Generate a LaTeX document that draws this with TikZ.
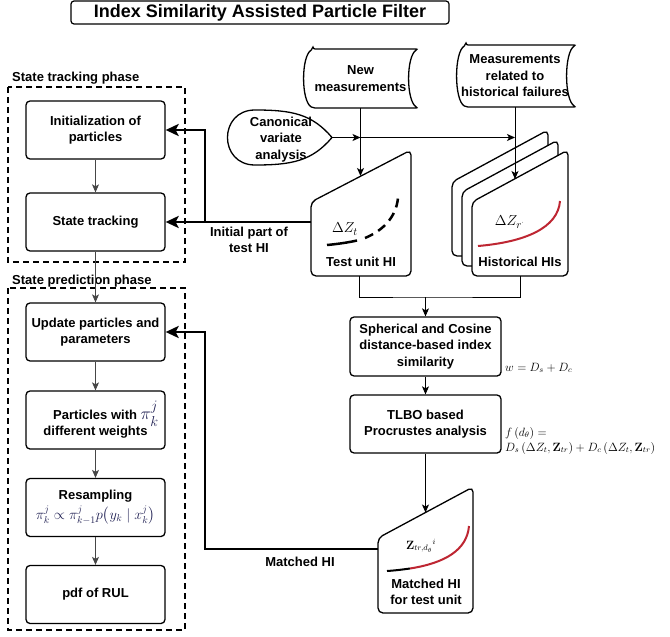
\documentclass[tikz,border=0pt]{standalone}
\usepackage[no-math]{fontspec}
\setmainfont{Liberation Sans}
\usepackage{amsmath}
\usetikzlibrary{arrows.meta, calc}
\definecolor{curvered}{RGB}{190, 38, 50}
\definecolor{linegray}{RGB}{70, 70, 70}
\definecolor{mathnavy}{RGB}{35, 35, 85}

\newcommand{\hicard}[5]{\draw[card] (#1,#3) -- (#2,#4) -- (#2,#5) -- (#1,#5) -- cycle;}

\begin{document}
\begin{tikzpicture}[x=1pt, y=-1pt,
    every node/.style={font=\fontsize{13}{16.5}\selectfont\bfseries, align=center, inner sep=1pt},
    box/.style={rectangle, draw, line width=1.3pt, rounded corners=4pt,
                minimum width=139pt, minimum height=58pt, fill=white},
    phase/.style={draw, line width=1.3pt, dash pattern=on 6pt off 4pt},
    card/.style={draw, fill=white, line width=1.3pt, rounded corners=5pt},
    outline/.style={draw, line width=1.3pt},
    conn/.style={line width=0.9pt, -{Stealth[length=8pt, width=7pt, inset=2pt]}},
    flow/.style={conn, draw=linegray},
    thk/.style={line width=2.8pt, -{Stealth[length=13pt, width=12pt, inset=3pt]}},
    mathlbl/.style={font=\fontsize{12}{14}\selectfont},
]
\useasboundingbox (0,0) rectangle (670,637);

\node[draw, rounded corners=3pt, line width=1.2pt, minimum width=378pt, minimum height=23pt,
      font=\fontsize{18}{20}\selectfont\bfseries] (title) at (260,12.5) {Index Similarity Assisted Particle Filter};

\draw[phase] (8,87) rectangle (185,262);
\draw[phase] (8,288) rectangle (185,630);
\node[anchor=west] (lbltrack) at (11,78) {State tracking phase};
\node[anchor=west] (lblpred) at (11,281) {State prediction phase};

\node[box] (init) at (95.5,130) {Initialization of\\particles};
\node[box] (track) at (95.5,222) {State tracking};
\node[box] (upd) at (95.5,332) {Update particles and\\parameters};
\node[box] (wts) at (95.5,420) {\hspace*{1.6em}Particles with {\color{mathnavy}\fontsize{19}{16.5}\selectfont$\pi_k^j$}\\different weights};
\node[box] (res) at (95.5,507.5) {Resampling\\[3pt]{\color{mathnavy}\fontsize{14}{16}\selectfont$\pi_k^j \propto \pi_{k-1}^j p\bigl(y_k \mid x_k^j\bigr)$}};
\node[box] (pdf) at (95.5,594.5) {pdf of RUL};

\draw[flow] (init) -- (track);
\draw[flow] (track) -- (upd);
\draw[flow] (upd) -- (wts);
\draw[flow] (wts) -- (res);
\draw[flow] (res) -- (pdf);

\node[minimum width=115pt, minimum height=59pt] (newm) at (360.5,78.5) {New\\measurements};
\draw[outline, rounded corners=2pt] (313,49) -- (418,49) .. controls (406,56) and (406,101) .. (418,108)
    -- (313,108) .. controls (301,101) and (301,56) .. (313,49) -- cycle;
\node[minimum width=120pt, minimum height=62pt] (histm) at (515,76) {Measurements\\related to\\historical failures};
\draw[outline, rounded corners=2pt] (466,45) -- (576,45) .. controls (564,52) and (564,100) .. (576,107)
    -- (466,107) .. controls (454,100) and (454,52) .. (466,45) -- cycle;

\draw[outline] (332,137.5) .. controls (312,114) and (292,110) .. (255,110)
    .. controls (218.3,110) and (218.3,165) .. (255,165)
    .. controls (292,165) and (312,161) .. (332,137.5);
\node (cva) at (281,139.5) {Canonical\\variate\\analysis};
\coordinate (cvatip) at (332,137.5);

\hicard{311}{411}{202}{150}{276}
\node (testhi) at (361,262) {Test unit HI};
\node[font=\fontsize{15}{16}\selectfont] (dzt) at (345,229) {$\Delta Z_t$};
\draw[line width=2.5pt] (327,245) .. controls (338,244) and (348,242.5) .. (357,240.5);
\draw[line width=2.5pt, dash pattern=on 9pt off 6pt] (365,238) .. controls (382,231) and (396,218) .. (398,198);
\coordinate (testin) at (360.5,176);
\coordinate (testout) at (359,276);
\coordinate (testleft) at (311,222);

\hicard{452}{548}{182}{130}{256}
\hicard{462}{558}{192}{140}{266}
\hicard{472}{568}{202}{150}{276}
\node (histhi) at (520,262) {Historical HIs};
\node[font=\fontsize{15}{16}\selectfont] (dzr) at (510,222) {$\Delta Z_{r^{\cdot}}$};
\draw[curvered, line width=2pt] (478,246) .. controls (525,242) and (558,228) .. (560,201);
\coordinate (histin) at (515,179);
\coordinate (histout) at (520.5,276);

\draw[conn] (newm.south) -- (testin);
\draw[conn] (histm.south) -- (histin);
\draw[conn] (cvatip) -- (cvatip -| newm.south);
\draw[conn] (cvatip) -- (cvatip -| histm.south);

\node[box, minimum width=151pt, minimum height=59pt] (sim) at (425.5,346.5) {Spherical and Cosine\\distance-based index\\similarity};
\node[box, minimum width=151pt, minimum height=58pt] (tlbo) at (425.5,424) {TLBO based\\Procrustes analysis};
\coordinate (join) at (425.5,297);
\draw[line width=0.9pt] (testout) |- (join) -| (histout);
\draw[conn] (join) -- (sim.north);
\draw[conn] (sim) -- (tlbo);

\node[mathlbl, anchor=base west] (wform) at (504,371) {$w = D_s + D_c$};
\node[mathlbl, anchor=base west] (fform) at (504,436) {$f\left(d_\theta\right) =$};
\node[mathlbl, anchor=base west] (fformb) at (504,451) {$D_s\left(\Delta Z_t, \mathbf{Z}_{tr}\right) + D_c\left(\Delta Z_t, \mathbf{Z}_{tr}\right)$};

\hicard{378}{473}{538}{487}{613}
\node (mathi) at (426,592) {Matched HI\\for test unit};
\node[mathlbl] (ztr) at (421,546) {$\mathbf{Z}_{tr,d_\theta}{}^{i}$};
\draw[line width=2pt] (387,571) .. controls (395,570.5) and (403,569.5) .. (410,568.5);
\draw[curvered, line width=2pt] (410,568.5) .. controls (445,563) and (467,550) .. (469,526);
\coordinate (matin) at (425.5,512.5);
\coordinate (matleft) at (378,549);
\draw[conn] (tlbo.south) -- (matin);

\coordinate (bendtop) at (205,222);
\coordinate (bendbot) at (205,549);
\draw[thk] (testleft) -- (track.east);
\draw[thk] (testleft) -- (bendtop) |- (init.east);
\draw[thk] (matleft) -- (bendbot) |- (upd.east);
\node (lblinit) at (249,240) {Initial part of\\test HI};
\node (lblmat) at (300,562) {Matched HI};

\end{tikzpicture}
\end{document}
